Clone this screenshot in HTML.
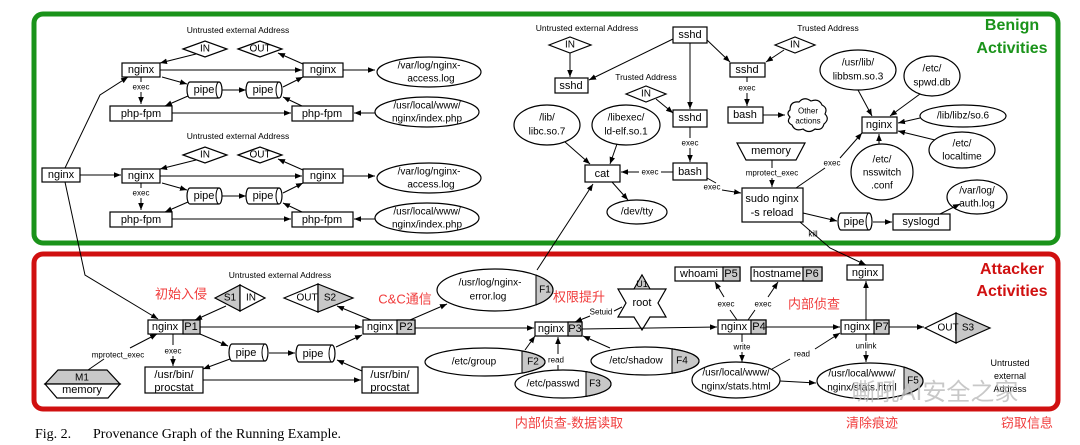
<!DOCTYPE html>
<html><head><meta charset="utf-8"><style>
html,body{margin:0;padding:0;background:#fff;width:1080px;height:445px;overflow:hidden}
svg{display:block}
text{font-family:"Liberation Sans",Arial,sans-serif;fill:#000}
.n{font-size:11px;text-anchor:middle;dominant-baseline:central}
.s{font-size:8px;text-anchor:middle;dominant-baseline:central}
.cn{font-family:"Liberation Sans","Noto Sans CJK SC",sans-serif;font-size:13px;fill:#f03c3c;text-anchor:middle;dominant-baseline:central}
rect,ellipse,polygon,path.sh{fill:#fff;stroke:#000;stroke-width:1.2}
line,polyline{stroke:#000;stroke-width:1;fill:none}
.a{marker-end:url(#ar)}
.g{fill:#c8c8c8!important}
</style></head><body>
<svg width="1080" height="445" viewBox="0 0 1080 445" xmlns="http://www.w3.org/2000/svg">
<defs><marker id="ar" viewBox="0 0 10 10" refX="10" refY="5" markerWidth="7" markerHeight="7" orient="auto"><path d="M0,1 L10,5 L0,9 z" fill="#000"/></marker>
<clipPath id="c1"><rect x="536" y="260" width="40" height="60"/></clipPath>
<clipPath id="c2"><rect x="522" y="340" width="40" height="40"/></clipPath>
<clipPath id="c4"><rect x="672" y="340" width="40" height="40"/></clipPath>
<clipPath id="c3"><rect x="586" y="365" width="40" height="40"/></clipPath>
<clipPath id="c5"><rect x="904" y="355" width="40" height="50"/></clipPath>
</defs>

<rect x="34" y="14" width="1024" height="229" rx="9" style="fill:none;stroke:#1a931a;stroke-width:5"/>
<rect x="34" y="254" width="1024" height="155" rx="9" style="fill:none;stroke:#d01010;stroke-width:5"/>
<text x="1012" y="30" style="font-size:16px;font-weight:bold;fill:#1a931a;text-anchor:middle">Benign</text>
<text x="1012" y="53" style="font-size:16px;font-weight:bold;fill:#1a931a;text-anchor:middle">Activities</text>
<text x="1012" y="274" style="font-size:16px;font-weight:bold;fill:#d01010;text-anchor:middle">Attacker</text>
<text x="1012" y="296" style="font-size:16px;font-weight:bold;fill:#d01010;text-anchor:middle">Activities</text>

<g id="grp">
<text class="s" x="238" y="30" style="font-size:8.5px">Untrusted external Address</text>
<polygon points="183,49 205,41 227,49 205,57"/><text class="n" x="205" y="49" style="font-size:10px">IN</text>
<polygon points="238,49 260,41 282,49 260,57"/><text class="n" x="260" y="49" style="font-size:10px">OUT</text>
<line class="a" x1="196" y1="54" x2="160" y2="63"/>
<line class="a" x1="303" y1="64" x2="278" y2="53"/>
<rect x="122" y="63" width="38" height="14"/><text class="n" x="141" y="70">nginx</text>
<rect x="303" y="63" width="40" height="14"/><text class="n" x="323" y="70">nginx</text>
<line class="a" x1="160" y1="70" x2="302" y2="70"/>
<line class="a" x1="343" y1="70" x2="375" y2="70"/>
<ellipse cx="429" cy="72" rx="52" ry="15"/><text class="n" x="429" y="66" style="font-size:10px">/var/log/nginx-</text><text class="n" x="431" y="79" style="font-size:10px">access.log</text>
<line x1="141" y1="77" x2="141" y2="82"/><text class="s" x="141" y="87">exec</text><line class="a" x1="141" y1="92" x2="141" y2="104"/>
<path class="sh" d="M190,82 H219 A3,8 0 0 1 219,98 H190 A3,8 0 0 1 190,82 Z"/><path d="M219,82 A3,8 0 0 0 219,98" style="fill:none;stroke:#000"/><text class="n" x="204" y="90">pipe</text>
<path class="sh" d="M249,82 H279 A3,8 0 0 1 279,98 H249 A3,8 0 0 1 249,82 Z"/><path d="M279,82 A3,8 0 0 0 279,98" style="fill:none;stroke:#000"/><text class="n" x="263" y="90">pipe</text>
<line class="a" x1="162" y1="77" x2="187" y2="84"/>
<line class="a" x1="222" y1="90" x2="246" y2="90"/>
<line class="a" x1="283" y1="87" x2="303" y2="77"/>
<line class="a" x1="188" y1="96" x2="165" y2="106"/>
<line class="a" x1="302" y1="106" x2="283" y2="97"/>
<rect x="110" y="106" width="62" height="15"/><text class="n" x="141" y="114">php-fpm</text>
<rect x="292" y="106" width="61" height="15"/><text class="n" x="322" y="114">php-fpm</text>
<line class="a" x1="172" y1="113" x2="291" y2="113"/>
<line class="a" x1="375" y1="113" x2="354" y2="113"/>
<ellipse cx="427" cy="112" rx="52" ry="15"/><text class="n" x="427" y="106" style="font-size:10px">/usr/local/www/</text><text class="n" x="427" y="119" style="font-size:10px">nginx/index.php</text>
</g>
<use href="#grp" transform="translate(0,106)"/>
<rect x="42" y="168" width="38" height="14"/><text class="n" x="61" y="175">nginx</text>
<line class="a" x1="80" y1="175" x2="121" y2="175"/>
<polyline class="a" points="65,168 100,95 128,77"/>
<polyline class="a" points="65,182 85,275 158,319"/>

<text class="s" x="587" y="28" style="font-size:8.5px">Untrusted external Address</text>
<polygon points="549,45 570,37 591,45 570,53"/><text class="n" x="570" y="45" style="font-size:10px">IN</text>
<line class="a" x1="570" y1="53" x2="570" y2="77"/>
<rect x="555" y="78" width="33" height="15"/><text class="n" x="571" y="86">sshd</text>
<rect x="673" y="27" width="34" height="16"/><text class="n" x="690" y="35">sshd</text>
<line class="a" x1="673" y1="39" x2="589" y2="80"/>
<line class="a" x1="690" y1="43" x2="690" y2="109"/>
<line class="a" x1="707" y1="40" x2="730" y2="62"/>
<text class="s" x="828" y="28" style="font-size:8.5px">Trusted Address</text>
<polygon points="775,45 795,37 815,45 795,53"/><text class="n" x="795" y="45" style="font-size:10px">IN</text>
<line class="a" x1="784" y1="50" x2="766" y2="62"/>
<rect x="730" y="63" width="35" height="14"/><text class="n" x="747" y="70">sshd</text>
<line x1="747" y1="77" x2="747" y2="82"/><text class="s" x="747" y="88">exec</text><line class="a" x1="747" y1="93" x2="747" y2="106"/>
<rect x="728" y="107" width="35" height="16"/><text class="n" x="745" y="115">bash</text>
<line class="a" x1="763" y1="115" x2="785" y2="115"/>
<path class="sh" d="M790,110 q0,-9 9,-8 q5,-6 12,-1 q8,-3 11,4 q6,3 3,9 q5,5 -1,10 q-2,7 -9,5 q-6,5 -12,0 q-8,3 -11,-4 q-6,-3 -2,-8 q-4,-4 0,-7z"/>
<text class="s" x="808" y="111">Other</text><text class="s" x="808" y="121">actions</text>
<text class="s" x="646" y="77" style="font-size:8.5px">Trusted Address</text>
<polygon points="626,94 646,86 666,94 646,102"/><text class="n" x="646" y="94" style="font-size:10px">IN</text>
<line class="a" x1="656" y1="99" x2="673" y2="113"/>
<rect x="673" y="110" width="34" height="17"/><text class="n" x="690" y="118">sshd</text>
<line x1="690" y1="127" x2="690" y2="138"/><text class="s" x="690" y="143">exec</text><line class="a" x1="690" y1="148" x2="690" y2="162"/>
<rect x="673" y="163" width="34" height="17"/><text class="n" x="690" y="172">bash</text>
<line x1="673" y1="172" x2="661" y2="172"/><text class="s" x="650" y="172">exec</text><line class="a" x1="639" y1="172" x2="621" y2="172"/>
<rect x="585" y="165" width="35" height="17"/><text class="n" x="602" y="174">cat</text>
<ellipse cx="547" cy="125" rx="33" ry="20"/><text class="n" x="547" y="118" style="font-size:10px">/lib/</text><text class="n" x="547" y="132" style="font-size:10px">libc.so.7</text>
<ellipse cx="626" cy="125" rx="34" ry="20"/><text class="n" x="626" y="118" style="font-size:10px">/libexec/</text><text class="n" x="626" y="132" style="font-size:10px">ld-elf.so.1</text>
<line class="a" x1="565" y1="142" x2="590" y2="164"/>
<line class="a" x1="617" y1="144" x2="610" y2="164"/>
<line class="a" x1="612" y1="182" x2="628" y2="200"/>
<ellipse cx="637" cy="212" rx="30" ry="12"/><text class="n" x="637" y="212" style="font-size:10px">/dev/tty</text>
<line class="a" x1="537" y1="270" x2="593" y2="184"/>
<line x1="707" y1="178" x2="716" y2="183"/><text class="s" x="712" y="187">exec</text><line class="a" x1="722" y1="190" x2="741" y2="193"/>
<polygon points="737,143 805,143 796,160 746,160"/><text class="n" x="771" y="151">memory</text>
<line x1="772" y1="160" x2="772" y2="168"/><text class="s" x="772" y="173">mprotect_exec</text><line class="a" x1="772" y1="178" x2="772" y2="187"/>
<rect x="742" y="188" width="61" height="34"/><text class="n" x="772" y="199">sudo nginx</text><text class="n" x="772" y="213">-s reload</text>
<line x1="796" y1="188" x2="825" y2="168"/><text class="s" x="832" y="163">exec</text><line class="a" x1="840" y1="158" x2="862" y2="133"/>
<rect x="862" y="117" width="35" height="16"/><text class="n" x="879" y="125">nginx</text>
<ellipse cx="858" cy="70" rx="38" ry="20"/><text class="n" x="858" y="63" style="font-size:10px">/usr/lib/</text><text class="n" x="858" y="77" style="font-size:10px">libbsm.so.3</text>
<ellipse cx="932" cy="76" rx="28" ry="20"/><text class="n" x="932" y="69" style="font-size:10px">/etc/</text><text class="n" x="932" y="83" style="font-size:10px">spwd.db</text>
<ellipse cx="963" cy="116" rx="43" ry="11"/><text class="n" x="963" y="116" style="font-size:10px">/lib/libz/so.6</text>
<ellipse cx="962" cy="150" rx="33" ry="18"/><text class="n" x="962" y="144" style="font-size:10px">/etc/</text><text class="n" x="962" y="157" style="font-size:10px">localtime</text>
<ellipse cx="882" cy="172" rx="31" ry="28"/><text class="n" x="882" y="160" style="font-size:10px">/etc/</text><text class="n" x="882" y="173" style="font-size:10px">nsswitch</text><text class="n" x="882" y="186" style="font-size:10px">.conf</text>
<line class="a" x1="858" y1="90" x2="872" y2="116"/>
<line class="a" x1="920" y1="94" x2="890" y2="116"/>
<line class="a" x1="920" y1="118" x2="898" y2="123"/>
<line class="a" x1="935" y1="140" x2="898" y2="131"/>
<line class="a" x1="879" y1="144" x2="879" y2="134"/>
<ellipse cx="977" cy="197" rx="30" ry="17"/><text class="n" x="977" y="191" style="font-size:10px">/var/log/</text><text class="n" x="977" y="204" style="font-size:10px">auth.log</text>
<line class="a" x1="803" y1="213" x2="837" y2="221"/>
<path class="sh" d="M841,213 H869 A3,8.5 0 0 1 869,230 H841 A3,8.5 0 0 1 841,213 Z"/><path d="M869,213 A3,8.5 0 0 0 869,230" style="fill:none;stroke:#000"/><text class="n" x="854" y="222">pipe</text>
<line class="a" x1="873" y1="222" x2="892" y2="222"/>
<rect x="893" y="214" width="57" height="16"/><text class="n" x="921" y="222">syslogd</text>
<line class="a" x1="940" y1="214" x2="960" y2="204"/>
<polyline class="a" points="800,222 830,248 866,265"/><text class="s" x="813" y="234">kill</text>

<text class="s" x="280" y="275" style="font-size:8.5px">Untrusted external Address</text>
<text class="cn" x="181" y="294">初始入侵</text>
<polygon class="g" points="215,298 240,285 240,311"/><polygon points="240,285 265,298 240,311"/>
<text class="n" x="230" y="298" style="font-size:10px">S1</text><text class="n" x="251" y="298" style="font-size:10px">IN</text>
<polygon points="284,298 318,284 318,312"/><polygon class="g" points="318,284 353,298 318,312"/>
<text class="n" x="307" y="298" style="font-size:10px">OUT</text><text class="n" x="330" y="298" style="font-size:10px">S2</text>
<text class="cn" x="405" y="299">C&amp;C通信</text>
<line class="a" x1="226" y1="306" x2="195" y2="320"/>
<line class="a" x1="371" y1="320" x2="337" y2="306"/>
<rect x="148" y="320" width="52" height="14"/><rect class="g" x="183" y="320" width="17" height="14"/>
<text class="n" x="165" y="327">nginx</text><text class="n" x="191" y="327">P1</text>
<rect x="363" y="320" width="52" height="14"/><rect class="g" x="397" y="320" width="18" height="14"/>
<text class="n" x="380" y="327">nginx</text><text class="n" x="406" y="327">P2</text>
<line class="a" x1="200" y1="327" x2="362" y2="327"/>
<line class="a" x1="415" y1="328" x2="534" y2="328"/>
<line class="a" x1="410" y1="320" x2="447" y2="304"/>
<line class="a" x1="200" y1="334" x2="228" y2="346"/>
<path class="sh" d="M232,344 H265 A3,8.5 0 0 1 265,361 H232 A3,8.5 0 0 1 232,344 Z"/><path d="M265,344 A3,8.5 0 0 0 265,361" style="fill:none;stroke:#000"/><text class="n" x="246" y="353">pipe</text>
<path class="sh" d="M299,345 H332 A3,8.5 0 0 1 332,362 H299 A3,8.5 0 0 1 299,345 Z"/><path d="M332,345 A3,8.5 0 0 0 332,362" style="fill:none;stroke:#000"/><text class="n" x="313" y="354">pipe</text>
<line class="a" x1="269" y1="353" x2="295" y2="353"/>
<line class="a" x1="336" y1="347" x2="362" y2="335"/>
<line class="a" x1="230" y1="359" x2="203" y2="369"/>
<line class="a" x1="362" y1="371" x2="337" y2="360"/>
<line x1="173" y1="334" x2="173" y2="345"/><text class="s" x="173" y="351">exec</text><line class="a" x1="173" y1="356" x2="173" y2="366"/>
<rect x="145" y="367" width="58" height="26"/><text class="n" x="174" y="375">/usr/bin/</text><text class="n" x="174" y="388">procstat</text>
<rect x="362" y="367" width="56" height="26"/><text class="n" x="390" y="375">/usr/bin/</text><text class="n" x="390" y="388">procstat</text>
<line class="a" x1="203" y1="380" x2="361" y2="380"/>
<polygon class="g" points="45,384 58,370 107,370 120,384"/><polygon points="45,384 120,384 108,398 57,398"/>
<text class="n" x="82" y="378" style="font-size:10px">M1</text><text class="n" x="82" y="390">memory</text>
<line x1="88" y1="370" x2="104" y2="359"/><text class="s" x="118" y="355">mprotect_exec</text><line class="a" x1="130" y1="348" x2="157" y2="334"/>

<ellipse cx="495" cy="290" rx="58" ry="21"/><ellipse class="g" cx="495" cy="290" rx="58" ry="21" clip-path="url(#c1)"/><line x1="536" y1="275" x2="536" y2="305"/>
<text class="n" x="490" y="283" style="font-size:10px">/usr/log/nginx-</text><text class="n" x="488" y="297" style="font-size:10px">error.log</text><text class="n" x="545" y="290" style="font-size:10px">F1</text>
<ellipse cx="485" cy="362" rx="60" ry="14"/><ellipse class="g" cx="485" cy="362" rx="60" ry="14" clip-path="url(#c2)"/><line x1="522" y1="351" x2="522" y2="373"/>
<text class="n" x="474" y="362" style="font-size:10px">/etc/group</text><text class="n" x="533" y="362" style="font-size:10px">F2</text>
<line class="a" x1="525" y1="350" x2="535" y2="336"/>
<text class="cn" x="579" y="297">权限提升</text>
<polygon points="642,275 650,289 666,289 658,303 666,317 650,317 642,330 634,317 618,317 626,303 618,289 634,289"/>
<path class="g" d="M634,289 L642,275 L650,289 Z" style="stroke:#000"/>
<text class="n" x="642" y="284" style="font-size:9px">U1</text><text class="n" x="642" y="303">root</text>
<line x1="622" y1="307" x2="614" y2="311"/><text class="s" x="601" y="312">Setuid</text><line class="a" x1="590" y1="316" x2="575" y2="322"/>
<rect x="535" y="322" width="47" height="14"/><rect class="g" x="568" y="322" width="14" height="14"/>
<text class="n" x="551" y="329">nginx</text><text class="n" x="575" y="329">P3</text>
<line class="a" x1="582" y1="329" x2="717" y2="327"/>
<ellipse cx="645" cy="361" rx="54" ry="14"/><ellipse class="g" cx="645" cy="361" rx="54" ry="14" clip-path="url(#c4)"/><line x1="672" y1="349" x2="672" y2="373"/>
<text class="n" x="636" y="361" style="font-size:10px">/etc/shadow</text><text class="n" x="682" y="361" style="font-size:10px">F4</text>
<line class="a" x1="610" y1="348" x2="583" y2="336"/>
<ellipse cx="563" cy="384" rx="48" ry="14"/><ellipse class="g" cx="563" cy="384" rx="48" ry="14" clip-path="url(#c3)"/><line x1="586" y1="372" x2="586" y2="396"/>
<text class="n" x="553" y="384" style="font-size:10px">/etc/passwd</text><text class="n" x="595" y="384" style="font-size:10px">F3</text>
<line x1="558" y1="370" x2="558" y2="365"/><text class="s" x="556" y="360">read</text><line class="a" x1="558" y1="354" x2="558" y2="337"/>
<rect x="675" y="267" width="65" height="14"/><rect class="g" x="723" y="267" width="17" height="14"/>
<text class="n" x="699" y="274">whoami</text><text class="n" x="731" y="274">P5</text>
<rect x="751" y="267" width="71" height="14"/><rect class="g" x="803" y="267" width="19" height="14"/>
<text class="n" x="777" y="274">hostname</text><text class="n" x="812" y="274">P6</text>
<line x1="737" y1="320" x2="730" y2="310"/><text class="s" x="726" y="304">exec</text><line class="a" x1="724" y1="297" x2="715" y2="282"/>
<line x1="748" y1="320" x2="755" y2="310"/><text class="s" x="763" y="304">exec</text><line class="a" x1="768" y1="297" x2="778" y2="282"/>
<text class="cn" x="814" y="304">内部侦查</text>
<rect x="718" y="320" width="48" height="14"/><rect class="g" x="751" y="320" width="15" height="14"/>
<text class="n" x="734" y="327">nginx</text><text class="n" x="759" y="327">P4</text>
<line class="a" x1="766" y1="327" x2="840" y2="327"/>
<rect x="841" y="320" width="48" height="14"/><rect class="g" x="874" y="320" width="15" height="14"/>
<text class="n" x="857" y="327">nginx</text><text class="n" x="882" y="327">P7</text>
<line class="a" x1="866" y1="320" x2="866" y2="281"/>
<rect x="847" y="265" width="36" height="15"/><text class="n" x="865" y="273">nginx</text>
<line class="a" x1="889" y1="327" x2="924" y2="327"/>
<polygon points="925,328 956,313 956,343"/><polygon class="g" points="956,313 990,328 956,343"/>
<text class="n" x="948" y="328" style="font-size:10px">OUT</text><text class="n" x="968" y="328" style="font-size:10px">S3</text>
<text class="s" x="1010" y="363" style="font-size:9px">Untrusted</text><text class="s" x="1010" y="376" style="font-size:9px">external</text><text class="s" x="1010" y="389" style="font-size:9px">Address</text>
<line x1="742" y1="334" x2="742" y2="342"/><text class="s" x="742" y="347">write</text><line class="a" x1="742" y1="352" x2="742" y2="362"/>
<ellipse cx="736" cy="380" rx="44" ry="18"/><text class="n" x="736" y="373" style="font-size:10px">/usr/local/www/</text><text class="n" x="736" y="387" style="font-size:10px">nginx/stats.html</text>
<line x1="772" y1="369" x2="790" y2="359"/><text class="s" x="802" y="354">read</text><line class="a" x1="815" y1="349" x2="840" y2="333"/>
<line x1="866" y1="334" x2="866" y2="341"/><text class="s" x="866" y="346">unlink</text><line class="a" x1="866" y1="351" x2="866" y2="362"/>
<line class="a" x1="780" y1="381" x2="816" y2="383"/>
<ellipse cx="870" cy="381" rx="53" ry="18"/><ellipse class="g" cx="870" cy="381" rx="53" ry="18" clip-path="url(#c5)"/><line x1="904" y1="367" x2="904" y2="395"/>
<text class="n" x="862" y="374" style="font-size:10px">/usr/local/www/</text><text class="n" x="862" y="388" style="font-size:10px">nginx/stats.html</text><text class="n" x="913" y="381" style="font-size:10px">F5</text>
<text x="935" y="400" style="font-family:'Liberation Sans','Noto Sans CJK SC',sans-serif;font-size:24px;fill:#bbbbbb;opacity:0.8;text-anchor:middle">嘶吼AI安全之家</text>

<text class="cn" x="569" y="423">内部侦查-数据读取</text>
<text class="cn" x="872" y="423">清除痕迹</text>
<text class="cn" x="1027" y="423">窃取信息</text>
<text x="35" y="438" style="font-family:'Liberation Serif',serif;font-size:14px">Fig. 2.</text>
<text x="93" y="438" style="font-family:'Liberation Serif',serif;font-size:14px">Provenance Graph of the Running Example.</text>
</svg>
</body></html>
